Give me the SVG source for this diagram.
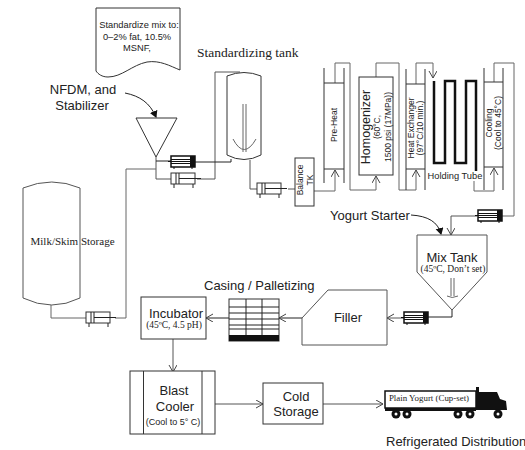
<svg xmlns="http://www.w3.org/2000/svg" width="525" height="450" viewBox="0 0 525 450">
<style>
text{font-family:"Liberation Sans",Arial,sans-serif;fill:#222}
.s{font-family:"Liberation Serif","Times New Roman",serif}
.m{text-anchor:middle}
.b{fill:#fff;stroke:#333;stroke-width:1}
.n{fill:none;stroke:#333;stroke-width:1}
.l{fill:none;stroke:#666;stroke-width:1}
.d{fill:none;stroke:#222;stroke-width:1}
.h{fill:none;stroke:#555;stroke-width:1}
</style>
<defs>
<marker id="o" markerWidth="10" markerHeight="10" refX="8" refY="4" orient="auto" markerUnits="userSpaceOnUse"><path d="M1 0L8 4L1 8" fill="none" stroke="#444" stroke-width="1"/></marker>
<marker id="f" markerWidth="10" markerHeight="10" refX="6" refY="4" orient="auto" markerUnits="userSpaceOnUse"><path d="M0 0L7 4L0 8Z" fill="#111"/></marker>
<g id="pump"><rect x="0" y="0" width="24" height="11" fill="#fff" stroke="#333"/><path d="M5 0V11M8 0V11M8 5.500H30M3 11V15M22 11V15" fill="none" stroke="#222" stroke-width="1"/></g>
<g id="pumpd"><rect x="0" y="0" width="24" height="11" fill="#fff" stroke="#111" stroke-width="1.500"/><rect x="19" y="0" width="5" height="11" fill="#111"/><path d="M-3 5.500H19M0 3.500H19M0 7.500H19M3 11V13M21 11V13" fill="none" stroke="#111" stroke-width="1"/></g>
</defs>
<g id="connectors">
<path class="h" d="M156 157V179H171M197 179H215V72H240"/>
<path class="d" d="M156 161H171M195 162H231V159"/>
<path class="l" d="M156 169H126V318H115M86 318H51V302"/>
<path class="h" d="M250 160V189H257M288 189H295"/>
<path class="l" d="M314 191H335V170" marker-end="url(#o)"/>
<path class="l" d="M335 83V63H350V190H376V176" marker-end="url(#o)"/>
<path class="l" d="M376 77V63H399V190H416V170" marker-end="url(#o)"/>
<path class="l" d="M416 84V63H433V78" marker-end="url(#o)"/>
<path class="l" d="M474 172V191H494V168" marker-end="url(#o)"/>
<path class="l" d="M494 82V63H514V216H502"/>
<path class="h" d="M477 216H451V235" marker-end="url(#o)"/>
<path class="d" d="M452 310V317H428"/>
<path class="h" d="M404 318H387" marker-end="url(#o)"/>
<path class="d" d="M302 318H279" marker-end="url(#o)"/>
<path class="d" d="M229 318H206" marker-end="url(#o)"/>
<path class="h" d="M173 339V372" marker-end="url(#o)"/>
<path class="h" d="M215 404H263" marker-end="url(#o)"/>
<path class="h" d="M323 404H383" marker-end="url(#o)"/>
<path class="d" d="M125 93C140 96 150 103 156 117" marker-end="url(#f)"/>
<path class="d" d="M411 215C428 216 438 222 441 234" marker-end="url(#f)"/>
</g>
<g id="spec"><path class="b" d="M96 8H180V70C170 66 160 60 147 62C132 65 122 77 108 77C102 77 98 74 96 71Z"/>
<text class="m" x="139" y="28" font-size="9.300">Standardize mix to:</text>
<text class="m" x="137" y="40" font-size="9.300">0–2% fat, 10.5%</text>
<text class="m" x="137" y="51" font-size="9.300">MSNF,</text></g>
<g id="label-tank"><text class="s" x="197" y="57" font-size="13.500">Standardizing tank</text></g>
<g id="nfdm"><text class="m" x="83" y="94" font-size="13">NFDM, and</text><text class="m" x="82" y="110" font-size="13">Stabilizer</text></g>
<g id="hopper"><path class="b" d="M136 118H177L156 157Z"/></g>
<g id="tank-std"><path class="b" d="M227 76Q244 69 261 76V155Q244 164 227 155Z"/><path class="l" d="M243 104V152M246 104V152M233 139Q244 160 256 139"/></g>
<g id="tank-milk"><path class="b" style="stroke:#555" d="M23 188Q52 176 80 188V298Q52 312 23 298Z"/><text class="s m" x="72.500" y="245" font-size="11">Milk/Skim Storage</text></g>
<g id="pump1"><use href="#pumpd" transform="translate(171 156)"/></g>
<g id="pump2"><use href="#pump" transform="translate(171 173)"/></g>
<g id="pump3"><use href="#pump" transform="translate(257 183)"/></g>
<g id="pump4"><use href="#pump" transform="translate(86 312)"/></g>
<g id="pump5"><use href="#pumpd" transform="translate(478 210)"/></g>
<g id="pump6"><use href="#pumpd" transform="translate(404 312)"/></g>
<g id="balance"><rect class="b" x="295" y="158" width="19" height="48"/><text class="m" font-size="8.500" transform="translate(303 180) rotate(-90)">Balance</text><text class="m" font-size="8.500" transform="translate(313 180) rotate(-90)">TK</text></g>
<g id="preheat"><path class="n" d="M324 68V183M344 68V183M324 83H344M324 169H344"/><text class="m" font-size="8.500" transform="translate(337 125) rotate(-90)">Pre-Heat</text></g>
<g id="homog"><rect class="b" x="359" y="77" width="34" height="98"/><text class="m" font-size="12.500" transform="translate(370 127) rotate(-90)">Homogenizer</text><text class="m" font-size="8.500" transform="translate(380 127) rotate(-90)">(60°C,</text><text class="m" font-size="8.500" transform="translate(391 127) rotate(-90)">1500 psi (17MPa))</text></g>
<g id="heatex"><path class="n" d="M406 69V190M425 69V190M406 84H425M406 169H425"/><text class="m" font-size="8.500" transform="translate(414 128) rotate(-90)">Heat Exchanger</text><text class="m" font-size="8.500" transform="translate(423 128) rotate(-90)">(97°C/10 min.)</text></g>
<g id="holding"><path d="M434 81V163H445V81H455V163H466V81H476V172" fill="none" stroke="#111" stroke-width="2.500"/><rect x="427" y="171" width="56" height="10" fill="#fff"/><text class="m" x="455" y="179" font-size="9.300">Holding Tube</text></g>
<g id="cooling"><path class="n" d="M484 68V190M503 68V190M484 82H503M484 167H503"/><text class="m" font-size="8.500" transform="translate(492 123) rotate(-90)">Cooling</text><text class="m" font-size="8.500" transform="translate(501 123) rotate(-90)">(Cool to 45°C)</text></g>
<g id="yogurt"><text x="330" y="220" font-size="13">Yogurt Starter</text></g>
<g id="mix"><path class="b" style="stroke:#555" d="M417 235H487V272L452 310L417 272Z"/><text class="m" x="452" y="262" font-size="13">Mix Tank</text><text class="s m" x="453" y="272" font-size="9.500">(45ºC, Don’t set)</text><path class="l" d="M451 278V296M454 278V296M447 296Q452 299 458 296"/></g>
<g id="filler"><path class="b" style="stroke:#555" d="M302 318L328 290H387V345H302Z"/><text class="m" x="348" y="322" font-size="13">Filler</text></g>
<g id="casing"><text x="204" y="290" font-size="13">Casing / Palletizing</text><rect class="b" x="229" y="299" width="50" height="42"/><rect x="229" y="335" width="50" height="6" fill="#111"/><path class="d" d="M229 307H279M229 313H279M229 319H279M229 325H279M229 329H279M246 299V335M262 299V335"/></g>
<g id="incubator"><rect class="b" x="141" y="297" width="65" height="42"/><text class="m" x="176" y="318" font-size="13">Incubator</text><text class="s m" x="174" y="328" font-size="9.500">(45ºC, 4.5 pH)</text></g>
<g id="blast"><rect class="b" x="130" y="371" width="85" height="63"/><path class="n" d="M143.500 371V434M202 371V434"/><text class="m" x="174" y="395" font-size="13">Blast</text><text class="m" x="175" y="411" font-size="13">Cooler</text><text class="m" x="173" y="425" font-size="9">(Cool to 5° C)</text></g>
<g id="cold"><rect class="b" x="263" y="383" width="60" height="41"/><text class="m" x="296" y="401" font-size="13">Cold</text><text class="m" x="296" y="416" font-size="13">Storage</text></g>
<g id="truck"><path d="M385 408H476V411H385Z" fill="#111"/><path d="M476 387H479V392H497L500 399L506 401L507 410H476Z" fill="#111"/><circle cx="396" cy="414" r="4.500" fill="#111"/><circle cx="407" cy="414" r="4.500" fill="#111"/><circle cx="458" cy="414" r="4.500" fill="#111"/><circle cx="470" cy="414" r="4.500" fill="#111"/><circle cx="498" cy="414" r="4.500" fill="#111"/><circle cx="396" cy="414" r="1.500" fill="#fff"/><circle cx="407" cy="414" r="1.500" fill="#fff"/><circle cx="458" cy="414" r="1.500" fill="#fff"/><circle cx="470" cy="414" r="1.500" fill="#fff"/><circle cx="498" cy="414" r="1.500" fill="#fff"/><rect x="385" y="391" width="91" height="17" fill="#fff" stroke="#111" stroke-width="1.500"/><text class="s m" x="429" y="401" font-size="8.900">Plain Yogurt (Cup-set)</text></g>
<g id="dist"><text x="386" y="446" font-size="13">Refrigerated Distribution</text></g>
</svg>
